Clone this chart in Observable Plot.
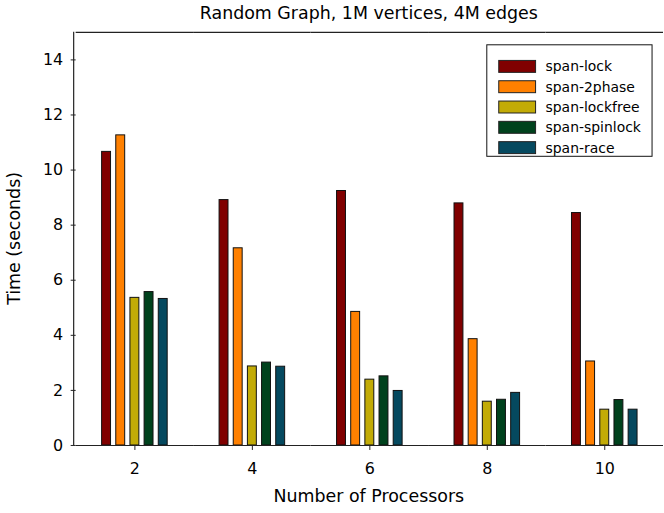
<!DOCTYPE html>
<html><head><meta charset="utf-8">
<script src="https://cdn.jsdelivr.net/npm/d3@7"></script>
<script src="https://cdn.jsdelivr.net/npm/@observablehq/plot@0.6"></script>
<style>
body{margin:0;background:#fff;overflow:hidden}
#chart{width:664px;height:513px;overflow:hidden;position:relative}
</style></head><body><div id="chart"></div>
<script>
const procs = [2, 4, 6, 8, 10];
const series = ["span-lock", "span-2phase", "span-lockfree", "span-spinlock", "span-race"];
const colors = ["#800000", "#ff8000", "#c2ab06", "#00421d", "#05495f"];
const spanLock     = [10.66, 8.91, 9.24, 8.79, 8.44];
const span2phase   = [11.26, 7.16, 4.85, 3.86, 3.05];
const spanLockfree = [5.36, 2.87, 2.39, 1.59, 1.30];
const spanSpinlock = [5.57, 3.01, 2.51, 1.66, 1.65];
const spanRace     = [5.32, 2.86, 1.98, 1.91, 1.30];
const yTicks = [0, 2, 4, 6, 8, 10, 12, 14];
const title = "Random Graph, 1M vertices, 4M edges";
const xLabel = "Number of Processors";
const yLabel = "Time (seconds)";

const valuesBySeries = [spanLock, span2phase, spanLockfree, spanSpinlock, spanRace];
const data = series.flatMap((s, i) => procs.map((p, j) => ({proc: p, series: s, time: valuesBySeries[i][j]})));

const W = 667, H = 513, ML = 74, MT = 32, MB = 66;
const axisMarks = Plot.axisFx ? [
  Plot.axisFx({anchor: "bottom", tickSize: 5, tickPadding: 12, label: null, stroke: "#222"}),
  Plot.axisY({anchor: "left", ticks: yTicks, tickSize: 5, tickPadding: 8, label: null, stroke: "#222"})
] : [];
const plot = Plot.plot({
  width: W, height: H,
  marginLeft: ML, marginRight: 0, marginTop: MT, marginBottom: MB,
  style: {fontFamily: "DejaVu Sans", fontSize: "16px", color: "#000", background: "#fff"},
  fx: {domain: procs, paddingInner: 0, paddingOuter: 0, label: null, tickSize: 5, tickPadding: 12},
  x: {domain: series, paddingInner: 0.37, paddingOuter: 1.832, round: false, axis: null},
  y: {domain: [0, 15], ticks: yTicks, tickSize: 5, tickPadding: 8, label: null},
  color: {domain: series, range: colors},
  marks: [
    ...axisMarks,
    Plot.barY(data, {fx: "proc", x: "series", y: "time", fill: "series", stroke: "#111", strokeWidth: 1}),
    Plot.ruleY([0, 15], {stroke: "#222", strokeWidth: 1.2})
  ]
});

const svg = d3.select(plot);
const cx = ML + (W - ML) / 2;
const font = "DejaVu Sans";
// y axis line
svg.append("line").attr("x1", ML).attr("x2", ML).attr("y1", MT).attr("y2", H - MB)
  .attr("stroke", "#222").attr("stroke-width", 1.2);
svg.append("text").attr("x", cx).attr("y", 19.5).attr("text-anchor", "middle")
  .attr("font-family", font).attr("font-size", 17.5).attr("fill", "#000").text(title);
svg.append("text").attr("x", cx).attr("y", 504).attr("text-anchor", "middle")
  .attr("font-family", font).attr("font-size", 17.5).attr("fill", "#000").text(xLabel);
svg.append("text").attr("transform", `translate(20,${(MT + H - MB) / 2}) rotate(-90)`).attr("text-anchor", "middle")
  .attr("font-family", font).attr("font-size", 17.5).attr("fill", "#000").text(yLabel);

const lg = svg.append("g");
lg.append("rect").attr("x", 489).attr("y", 45).attr("width", 166).attr("height", 112)
  .attr("fill", "#fff").attr("stroke", "#111").attr("stroke-width", 1);
series.forEach((s, i) => {
  const yc = 66.7 + i * 20.4;
  lg.append("rect").attr("x", 501).attr("y", yc - 6).attr("width", 37).attr("height", 12)
    .attr("fill", colors[i]).attr("stroke", "#222").attr("stroke-width", 1);
  lg.append("text").attr("x", 548).attr("y", yc).attr("dy", "0.35em").attr("text-anchor", "start")
    .attr("font-family", font).attr("font-size", 14).attr("fill", "#000").text(s);
});

document.getElementById("chart").appendChild(plot);
</script>
</body></html>
